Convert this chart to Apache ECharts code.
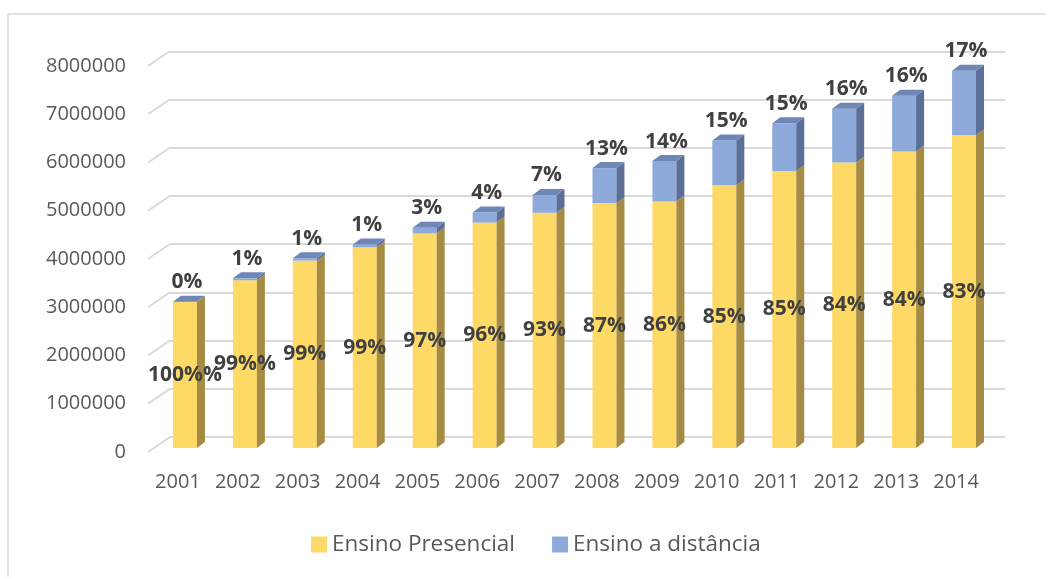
<!DOCTYPE html>
<html>
<head>
<meta charset="utf-8">
<script src="https://cdn.jsdelivr.net/npm/echarts@6/dist/echarts.min.js"></script>
<style>
  html, body { margin: 0; padding: 0; background: #fff; }
  #chart { width: 1046px; height: 577px; }
</style>
</head>
<body>
<div id="chart"></div>
<script>
const years = ['2001', '2002', '2003', '2004', '2005', '2006', '2007', '2008', '2009', '2010', '2011', '2012', '2013', '2014'];
const presencial = [3030754, 3479913, 3887022, 4163733, 4453156, 4676646, 4880381, 5080056, 5115896, 5449120, 5746762, 5923838, 6152405, 6486171];
const distancia = [5359, 40714, 49911, 59611, 114642, 207206, 369766, 727961, 838125, 930179, 992927, 1113850, 1153572, 1341842];
const presencialLabels = ['100%%', '99%%', '99%', '99%', '97%', '96%', '93%', '87%', '86%', '85%', '85%', '84%', '84%', '83%'];
const distanciaLabels = ['0%', '1%', '1%', '1%', '3%', '4%', '7%', '13%', '14%', '15%', '15%', '16%', '16%', '17%'];
const yTicks = [0, 1000000, 2000000, 3000000, 4000000, 5000000, 6000000, 7000000, 8000000];

const FONT = '"Open Sans", "DejaVu Sans", sans-serif';
const YELLOW = { front: '#ffd966', side: '#a68c42', top: '#e6c35a' };
const BLUE = { front: '#8eaadb', side: '#5c6f98', top: '#6e87b7' };
const DX = 8, DY = 6;

const chart = echarts.init(document.getElementById('chart'));

// one stacked 3D-looking bar segment
function bar3d(colors, base, values, labels, labelPos) {
  return function (params, api) {
    const i = api.value(0);
    const lo = base ? base[i] : 0;
    const hi = lo + values[i];
    const p0 = api.coord([i, lo]);
    const p1 = api.coord([i, hi]);
    const w = api.size([1, 0])[0] * 0.4;
    const cx = p0[0];
    const xl = cx - w / 2, xr = cx + w / 2;
    const yb = p0[1], yt = p1[1];
    const children = [
      { type: 'rect', shape: { x: xl, y: yt, width: w, height: yb - yt }, style: { fill: colors.front } },
      { type: 'polygon', shape: { points: [[xr, yt], [xr + DX, yt - DY], [xr + DX, yb - DY], [xr, yb]] }, style: { fill: colors.side } }
    ];
    const txt = { fill: '#404040', fontFamily: FONT, fontWeight: 'bold', fontSize: 21, align: 'center' };
    if (labelPos === 'top') {
      children.push({ type: 'polygon', shape: { points: [[xl, yt], [xl + DX, yt - DY], [xr + DX, yt - DY], [xr, yt]] }, style: { fill: colors.top } });
      children.push({ type: 'text', style: Object.assign({ text: labels[i], x: cx + 2, y: yt - DY - 3, verticalAlign: 'bottom' }, txt) });
    } else {
      children.push({ type: 'text', style: Object.assign({ text: labels[i], x: cx, y: (yb + yt) / 2, verticalAlign: 'middle' }, txt) });
    }
    return { type: 'group', children: children };
  };
}

const yBase = { type: 'value', min: 0, max: 8000000, interval: 1000000 };

const option = {
  animation: false,
  backgroundColor: '#fff',
  graphic: [
    { type: 'rect', shape: { x: 8, y: 14, width: 1100, height: 620 }, style: { fill: 'none', stroke: '#d9d9d9', lineWidth: 1.5 }, silent: true }
  ],
  legend: {
    left: 311,
    top: 533,
    padding: 0,
    itemWidth: 16,
    itemHeight: 16,
    itemGap: 37,
    icon: 'rect',
    textStyle: { fontFamily: FONT, fontSize: 22.5, color: '#595959' },
    data: [
      { name: 'Ensino Presencial', itemStyle: { color: YELLOW.front } },
      { name: 'Ensino a distância', itemStyle: { color: BLUE.front } }
    ]
  },
  grid: [
    { left: 148, width: 838, top: 66, height: 386 },   // front plane: axis labels
    { left: 170, width: 835, top: 51.5, height: 385.2 }, // back wall: gridlines
    { left: 155, width: 839, top: 62.4, height: 385.6 }  // bars
  ],
  xAxis: [
    {
      gridIndex: 0, type: 'category', data: years,
      axisLine: { show: false }, axisTick: { show: false },
      axisLabel: { margin: 20, fontFamily: FONT, fontSize: 20, color: '#595959' }
    },
    { gridIndex: 1, type: 'category', data: years, show: false },
    { gridIndex: 2, type: 'category', data: years, show: false }
  ],
  yAxis: [
    Object.assign({}, yBase, {
      gridIndex: 0,
      axisLine: { show: false }, axisTick: { show: false }, splitLine: { show: false },
      axisLabel: { margin: 22, fontFamily: FONT, fontSize: 20, color: '#595959', formatter: v => String(v) }
    }),
    Object.assign({}, yBase, {
      gridIndex: 1,
      axisLine: { show: false }, axisTick: { show: false }, axisLabel: { show: false },
      splitLine: { show: true, lineStyle: { color: '#d9d9d9', width: 2 } }
    }),
    Object.assign({}, yBase, { gridIndex: 2, show: false })
  ],
  series: [
    {
      // floor diagonals linking labels to back wall
      type: 'custom', xAxisIndex: 0, yAxisIndex: 0, silent: true,
      data: yTicks.map(v => [0, v]),
      renderItem: function (params, api) {
        const y = api.coord([0, api.value(1)])[1];
        const x = params.coordSys.x;
        return { type: 'line', shape: { x1: x, y1: y, x2: x + 22, y2: y - 15 }, style: { stroke: '#d9d9d9', lineWidth: 2 } };
      }
    },
    {
      name: 'Ensino Presencial', type: 'custom', xAxisIndex: 2, yAxisIndex: 2,
      itemStyle: { color: YELLOW.front },
      data: years.map((y, i) => [i, presencial[i]]),
      renderItem: bar3d(YELLOW, null, presencial, presencialLabels, 'inside')
    },
    {
      name: 'Ensino a distância', type: 'custom', xAxisIndex: 2, yAxisIndex: 2,
      itemStyle: { color: BLUE.front },
      data: years.map((y, i) => [i, presencial[i] + distancia[i]]),
      renderItem: bar3d(BLUE, presencial, distancia, distanciaLabels, 'top')
    }
  ]
};

chart.setOption(option);
</script>
</body>
</html>
